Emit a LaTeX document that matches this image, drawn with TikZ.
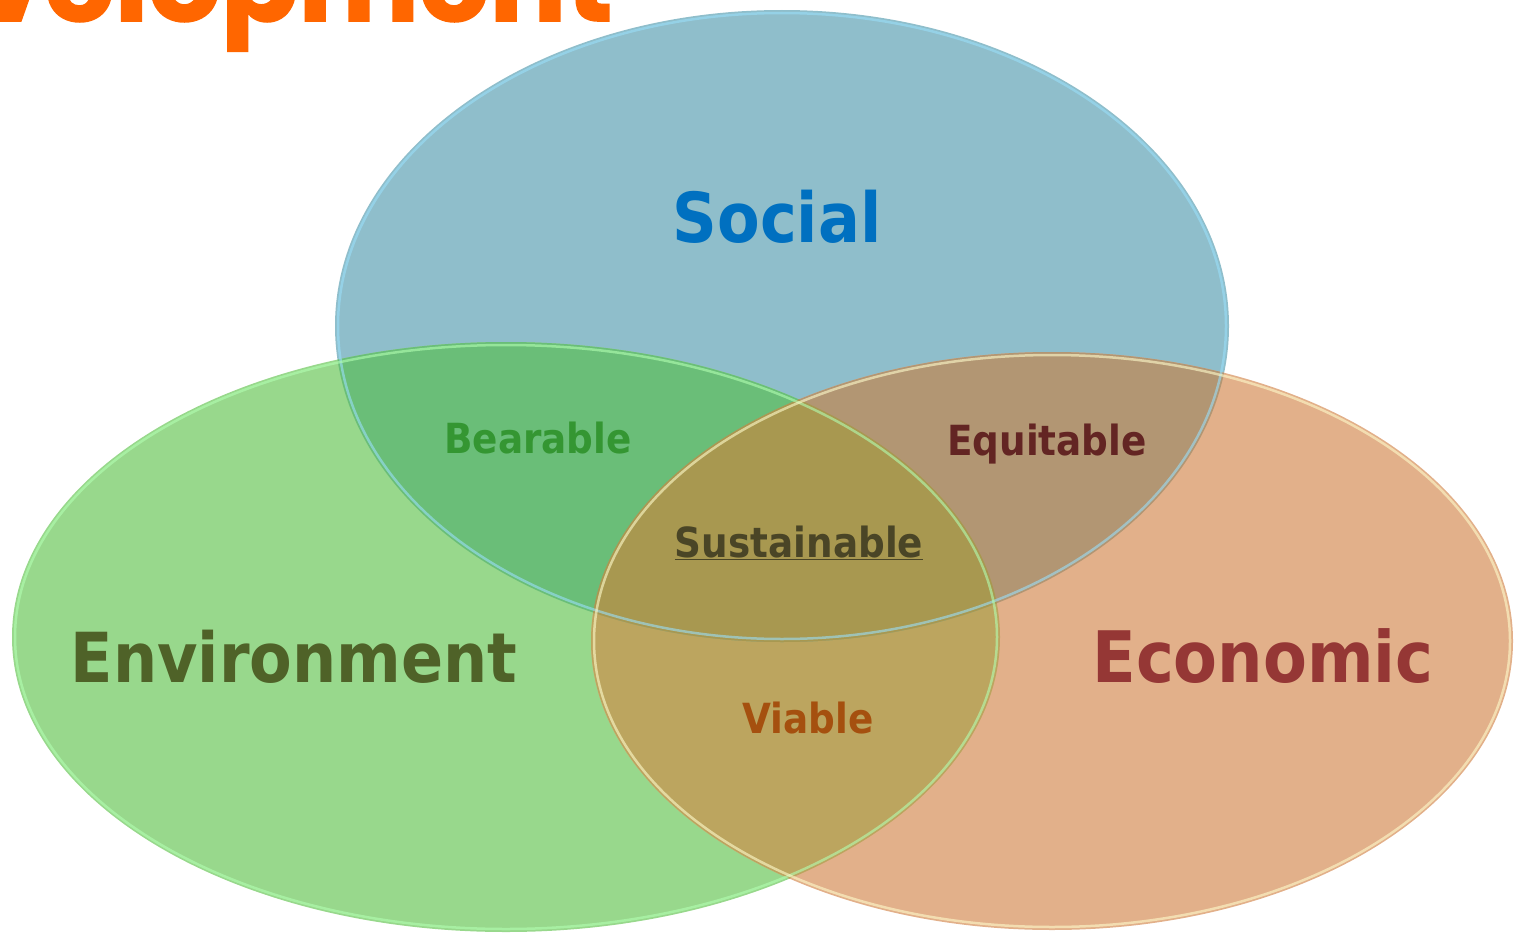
\documentclass[tikz,border=0pt]{standalone}
\usepackage{fontspec}
\setmainfont{DejaVu Sans}
\newfontfamily\vennfont[FakeStretch=0.9]{DejaVu Sans}
\newfontfamily\titlefont[BoldFeatures={FakeBold=1.5}]{Poppins}
\usetikzlibrary{positioning}

\definecolor{socfill}{RGB}{143,190,203}
\definecolor{envfill}{RGB}{152,216,140}
\definecolor{ecofill}{RGB}{226,176,138}
\definecolor{socenv}{RGB}{106,190,120}
\definecolor{soceco}{RGB}{178,150,115}
\definecolor{enveco}{RGB}{188,165,95}
\definecolor{allthree}{RGB}{168,152,80}
\definecolor{soctext}{RGB}{0,112,192}
\definecolor{envtext}{RGB}{79,98,40}
\definecolor{ecotext}{RGB}{149,55,53}
\definecolor{beartext}{RGB}{52,150,50}
\definecolor{equitext}{RGB}{99,37,35}
\definecolor{susttext}{RGB}{74,69,38}
\definecolor{viatext}{RGB}{165,80,15}
\definecolor{titleorange}{RGB}{255,102,0}

\newcommand\socialpath{(782,326) ellipse [x radius=447, y radius=316]}
\newcommand\envpath{(506,637) ellipse [x radius=494, y radius=295]}
\newcommand\ecopath{(1052,641) ellipse [x radius=461, y radius=289]}

\tikzset{
  biglabel/.style={font=\vennfont\bfseries\fontsize{69}{80}\selectfont, anchor=base},
  smalllabel/.style={font=\vennfont\bfseries\fontsize{41.5}{48}\selectfont, anchor=base},
  rim/.style={line width=2.5pt, opacity=0.6}
}

\begin{document}
\begin{tikzpicture}[x=1pt, y=-1pt]
  \useasboundingbox (0,0) rectangle (1523,934);

  \fill[socfill] \socialpath;
  \fill[envfill] \envpath;
  \fill[ecofill] \ecopath;

  \begin{scope}
    \clip \envpath; \fill[enveco] \ecopath;
  \end{scope}
  \begin{scope}
    \clip \socialpath;
    \fill[socenv] \envpath; \fill[soceco] \ecopath;
    \clip \envpath; \fill[allthree] \ecopath;
  \end{scope}

  % glossy rims
  \draw[rim, white!60!cyan] (782,326) ellipse [x radius=444, y radius=313];
  \draw[rim, white!70!green] (506,637) ellipse [x radius=491, y radius=292];
  \draw[rim, white!80!yellow] (1052,641) ellipse [x radius=458, y radius=286];

  \draw (616,21) node[anchor=base east, text=titleorange,
    font=\titlefont\bfseries\fontsize{114}{124}\selectfont] (title) {Development};

  \draw (777,242) node[biglabel, text=soctext] (social) {Social};
  \draw (294,682) node[biglabel, text=envtext] (environment) {Environment};
  \draw (1263,682) node[biglabel, text=ecotext,
    font=\vennfont\bfseries\fontsize{71}{80}\selectfont] (economic) {Economic};

  \draw (538,453) node[smalllabel, text=beartext] (bearable) {Bearable};
  \draw (1047,455) node[smalllabel, text=equitext] (equitable) {Equitable};
  \draw (799,557) node[smalllabel, text=susttext] (sustainable) {\underline{Sustainable}};
  \draw (808,733) node[smalllabel, text=viatext] (viable) {Viable};
\end{tikzpicture}
\end{document}
